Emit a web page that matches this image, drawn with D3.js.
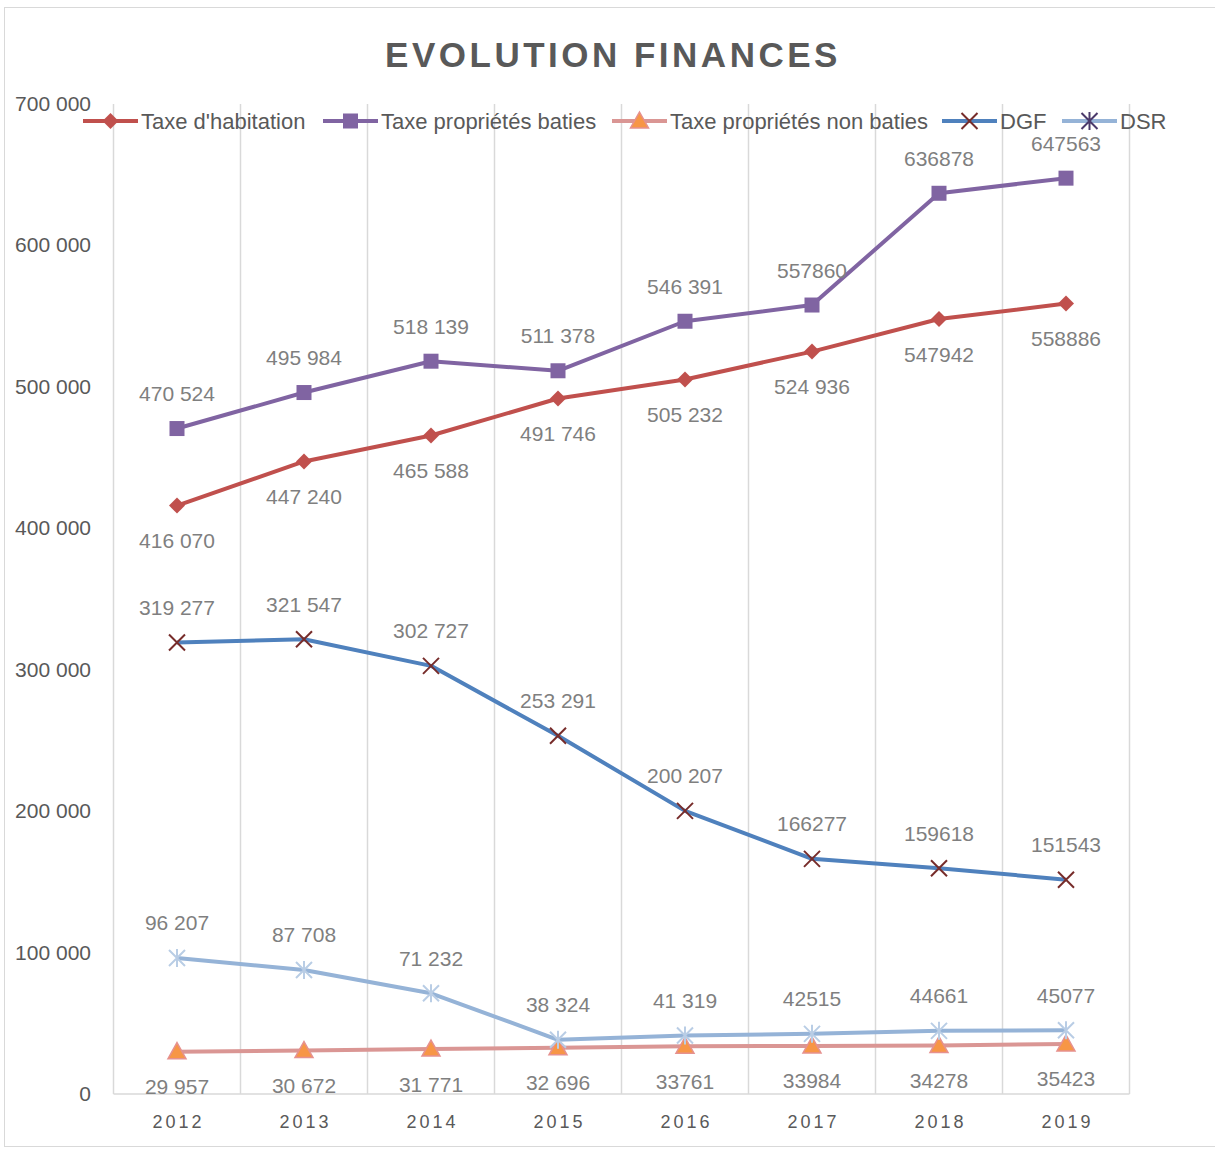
<!DOCTYPE html>
<html><head><meta charset="utf-8">
<script src="https://cdn.jsdelivr.net/npm/d3@7"></script>
<style>body{margin:0;background:#fff}svg{display:block}</style>
</head><body>
<script>
const years = ["2012","2013","2014","2015","2016","2017","2018","2019"];
const habitation = [416070,447240,465588,491746,505232,524936,547942,558886];
const habitationLabels = ["416 070","447 240","465 588","491 746","505 232","524 936","547942","558886"];
const baties = [470524,495984,518139,511378,546391,557860,636878,647563];
const batiesLabels = ["470 524","495 984","518 139","511 378","546 391","557860","636878","647563"];
const nonBaties = [29957,30672,31771,32696,33761,33984,34278,35423];
const nonBatiesLabels = ["29 957","30 672","31 771","32 696","33761","33984","34278","35423"];
const dgf = [319277,321547,302727,253291,200207,166277,159618,151543];
const dgfLabels = ["319 277","321 547","302 727","253 291","200 207","166277","159618","151543"];
const dsr = [96207,87708,71232,38324,41319,42515,44661,45077];
const dsrLabels = ["96 207","87 708","71 232","38 324","41 319","42515","44661","45077"];
const yTicks = [0,100000,200000,300000,400000,500000,600000,700000];
const yTickLabels = ["0","100 000","200 000","300 000","400 000","500 000","600 000","700 000"];
const seriesNames = ["Taxe d'habitation","Taxe propriétés baties","Taxe propriétés non baties","DGF","DSR"];

const W=1215,H=1149;
const svg=d3.select("body").append("svg").attr("width",W).attr("height",H);
const font="'Liberation Sans', Arial, sans-serif";
svg.append("rect").attr("x",4.5).attr("y",7.5).attr("width",1220).attr("height",1139).attr("fill","#fff").attr("stroke","#d9d9d9");

const x=d3.scaleBand().domain(years).range([113.5,1129.5]);
const y=d3.scaleLinear().domain([0,700000]).range([1094,104]);
const cx=d=>x(d)+x.bandwidth()/2;

// vertical gridlines
const bounds=years.map(d=>x(d)).concat([x.range()[1]]);
svg.append("g").selectAll("line").data(bounds).join("line")
 .attr("x1",d=>d).attr("x2",d=>d).attr("y1",y(700000)).attr("y2",y(0))
 .attr("stroke","#d9d9d9").attr("stroke-width",1.5);
svg.append("line").attr("x1",113.5).attr("x2",1129.5).attr("y1",y(0)).attr("y2",y(0)).attr("stroke","#d9d9d9").attr("stroke-width",1.5);

// y labels
svg.append("g").selectAll("text").data(yTicks).join("text")
 .attr("x",91).attr("y",d=>y(d)+7).attr("text-anchor","end")
 .attr("font-family",font).attr("font-size",21).attr("fill","#595959")
 .text((d,i)=>yTickLabels[i]);
// x labels
svg.append("g").selectAll("text").data(years).join("text")
 .attr("x",d=>cx(d)+1.5).attr("y",1128).attr("text-anchor","middle")
 .attr("font-family",font).attr("font-size",18).attr("letter-spacing",3).attr("fill","#595959")
 .text(d=>d);

// title
svg.append("text").attr("x",613).attr("y",67).attr("text-anchor","middle")
 .attr("font-family",font).attr("font-weight","bold").attr("font-size",35).attr("letter-spacing",3.5)
 .attr("fill","#595959").text("EVOLUTION FINANCES");

const line=d3.line().x((d,i)=>cx(years[i])).y(d=>y(d));

function marker(g,type,px,py){
  if(type==="diamond"){
    g.append("path").attr("d",`M${px},${py-8}L${px+8},${py}L${px},${py+8}L${px-8},${py}Z`).attr("fill","#C0504D");
  } else if(type==="square"){
    g.append("rect").attr("x",px-7.5).attr("y",py-7.5).attr("width",15).attr("height",15).attr("fill","#8064A2");
  } else if(type==="triangle"){
    g.append("path").attr("d",`M${px},${py-9}L${px+9},${py+7}L${px-9},${py+7}Z`).attr("fill","#F79646").attr("stroke","#E6918F").attr("stroke-width",1.5);
  } else if(type==="x"){
    g.append("path").attr("d",`M${px-8},${py-8}L${px+8},${py+8}M${px+8},${py-8}L${px-8},${py+8}`).attr("stroke","#772C2A").attr("stroke-width",2);
  } else if(type==="star"||type==="starDark"){
    const c=type==="star"?"#B9CDE5":"#4B3A6B";
    g.append("path").attr("d",`M${px-8},${py-8}L${px+8},${py+8}M${px+8},${py-8}L${px-8},${py+8}M${px},${py-9}L${px},${py+9}`).attr("stroke",c).attr("stroke-width",2);
  }
}

const series=[
 {vals:habitation,labels:habitationLabels,color:"#C0504D",m:"diamond",pos:1},
 {vals:baties,labels:batiesLabels,color:"#8064A2",m:"square",pos:-1},
 {vals:nonBaties,labels:nonBatiesLabels,color:"#DA9694",m:"triangle",pos:1},
 {vals:dgf,labels:dgfLabels,color:"#4F81BD",m:"x",pos:-1},
 {vals:dsr,labels:dsrLabels,color:"#95B3D7",m:"star",pos:-1}
];
series.forEach(s=>{
  const g=svg.append("g");
  g.append("path").attr("d",line(s.vals)).attr("fill","none").attr("stroke",s.color).attr("stroke-width",4).attr("stroke-linejoin","round");
  s.vals.forEach((v,i)=>marker(g,s.m,cx(years[i]),y(v)));
  g.selectAll("text").data(s.vals).join("text")
   .attr("x",(d,i)=>cx(years[i])).attr("y",d=>y(d)+s.pos*35+7.5).attr("text-anchor","middle")
   .attr("font-family",font).attr("font-size",21).attr("fill","#7F7F7F")
   .text((d,i)=>s.labels[i]);
});

// legend
const legendItems=[
 {name:seriesNames[0],color:"#C0504D",m:"diamond",x0:83},
 {name:seriesNames[1],color:"#8064A2",m:"square",x0:323},
 {name:seriesNames[2],color:"#DA9694",m:"triangle",x0:612},
 {name:seriesNames[3],color:"#4F81BD",m:"x",x0:942},
 {name:seriesNames[4],color:"#95B3D7",m:"starDark",x0:1062}
];
const lg=svg.append("g");
legendItems.forEach(it=>{
  const ly=121;
  lg.append("line").attr("x1",it.x0).attr("x2",it.x0+55).attr("y1",ly).attr("y2",ly).attr("stroke",it.color).attr("stroke-width",4);
  marker(lg,it.m,it.x0+27.5,ly);
  lg.append("text").attr("x",it.x0+58).attr("y",ly+7.5).attr("font-family",font).attr("font-size",22).attr("fill","#595959").text(it.name);
});
</script>
</body></html>
